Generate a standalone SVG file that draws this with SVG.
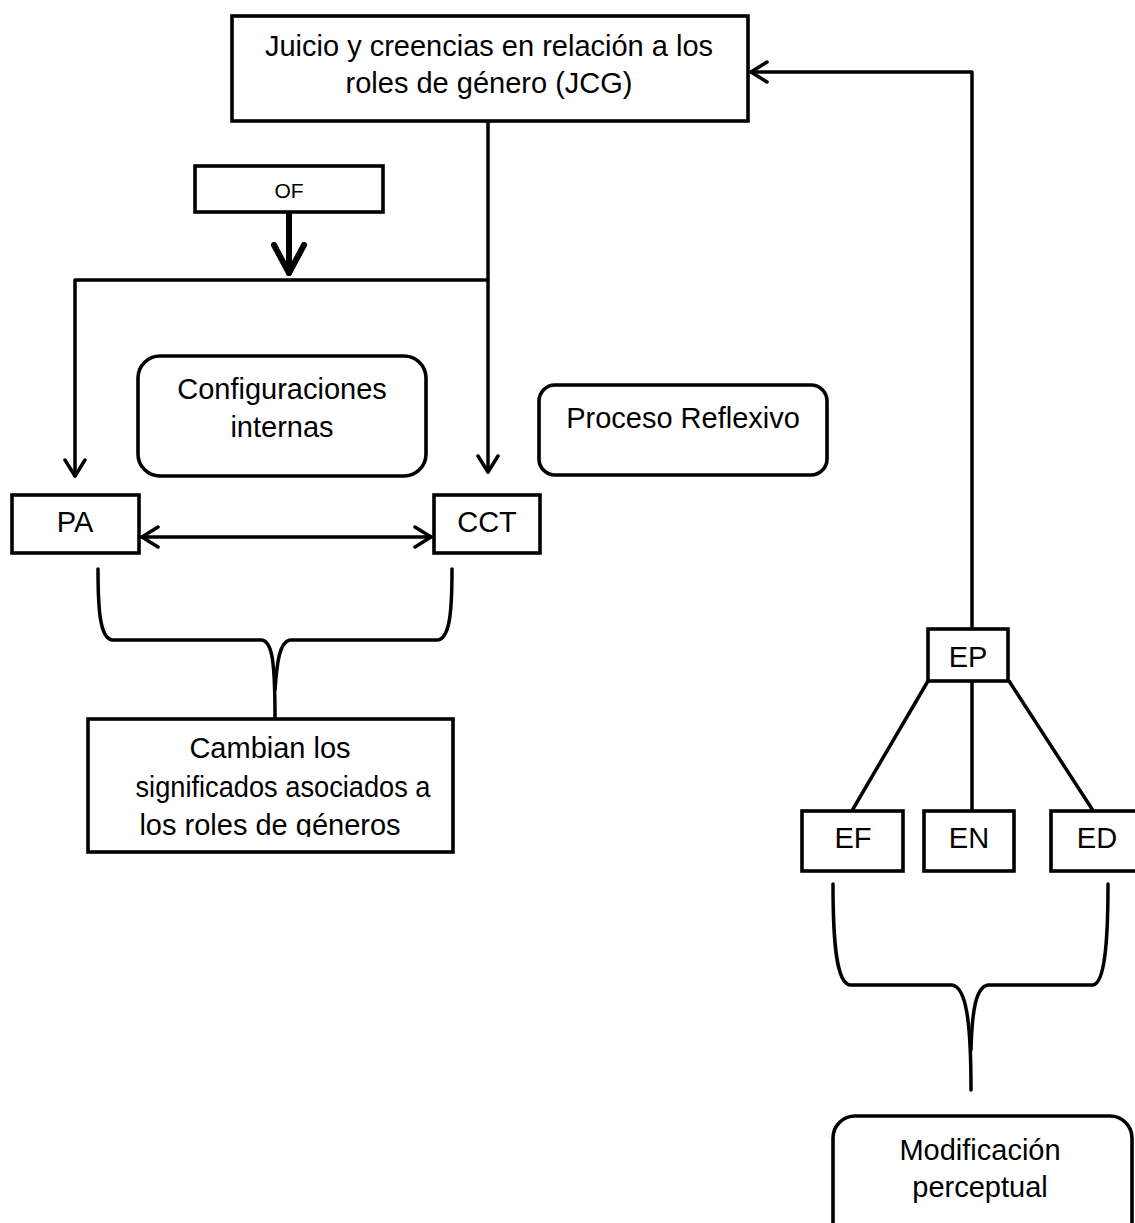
<svg xmlns="http://www.w3.org/2000/svg" width="1135" height="1223" viewBox="0 0 1135 1223">
<style>
.box{fill:#fff;stroke:#000;stroke-width:3.6}
.t{font-family:"Liberation Sans",Arial,sans-serif;font-size:29px;fill:#000;text-anchor:middle}
.ln{fill:none;stroke:#000;stroke-width:3.5;stroke-linecap:round;stroke-linejoin:round}
</style>
<defs>
<marker id="ah" viewBox="0 0 20 24" refX="18" refY="12" markerWidth="20" markerHeight="24" markerUnits="userSpaceOnUse" orient="auto-start-reverse">
<path d="M2,2 L18,12 L2,22" fill="none" stroke="#000" stroke-width="3.5" stroke-linecap="round" stroke-linejoin="round"/>
</marker>
<marker id="ahb" viewBox="0 0 34 36" refX="31" refY="18" markerWidth="34" markerHeight="36" markerUnits="userSpaceOnUse" orient="auto">
<path d="M3,3 L31,18 L3,33" fill="none" stroke="#000" stroke-width="6" stroke-linecap="round" stroke-linejoin="round"/>
</marker>
<clipPath id="cambClip"><rect x="80" y="700" width="380" height="137"/></clipPath>
</defs>

<g id="connectors">
<path class="ln" d="M488,121 V472" marker-end="url(#ah)"/>
<path class="ln" d="M488,280 H75 V476" marker-end="url(#ah)"/>
<path class="ln" d="M289,213 V273" style="stroke-width:6" marker-end="url(#ahb)"/>
<path class="ln" d="M142,537 H431" marker-start="url(#ah)" marker-end="url(#ah)"/>
<path class="ln" d="M972,628 V72 H751" marker-end="url(#ah)"/>
<path class="ln" d="M928,681 L853,809"/>
<path class="ln" d="M972,681 V809"/>
<path class="ln" d="M1009,681 L1092,809"/>
<path class="ln" d="M98,569 C98,610 100,638 112,640 H262 C272,642 275,660 275,718"/>
<path class="ln" d="M452,569 C452,610 450,638 438,640 H290 C280,642 277,660 275,690"/>
<path class="ln" d="M833,884 C833,940 836,983 850,985 H952 C966,987 971,1020 971,1090"/>
<path class="ln" d="M1108,884 C1108,940 1105,983 1093,985 H988 C976,987 972,1010 971,1050"/>
</g>

<g id="jcg">
<rect class="box" x="232" y="16" width="516" height="105"/>
<text class="t" x="489" y="56">Juicio y creencias en relación a los</text>
<text class="t" x="489" y="93">roles de género (JCG)</text>
</g>

<g id="of">
<rect class="box" x="195" y="166" width="188" height="46"/>
<text class="t" x="289" y="198" style="font-size:21px">OF</text>
</g>

<g id="config">
<rect class="box" x="138" y="356" width="288" height="120" rx="22"/>
<text class="t" x="282" y="399">Configuraciones</text>
<text class="t" x="282" y="437">internas</text>
</g>

<g id="proceso">
<rect class="box" x="539" y="385" width="288" height="90" rx="16"/>
<text class="t" x="683" y="428">Proceso Reflexivo</text>
</g>

<g id="pa">
<rect class="box" x="12" y="495" width="127" height="58"/>
<text class="t" x="75" y="532">PA</text>
</g>

<g id="cct">
<rect class="box" x="434" y="495" width="106" height="58"/>
<text class="t" x="487" y="532">CCT</text>
</g>

<g id="cambian">
<rect class="box" x="88" y="719" width="365" height="133"/>
<g clip-path="url(#cambClip)">
<text class="t" x="270" y="758">Cambian los</text>
<text class="t" x="283" y="797" textLength="295" lengthAdjust="spacingAndGlyphs">significados asociados a</text>
<text class="t" x="270" y="835">los roles de géneros</text>
</g>
</g>

<g id="ep">
<rect class="box" x="928" y="629" width="80" height="52"/>
<text class="t" x="968" y="667">EP</text>
</g>

<g id="ef">
<rect class="box" x="802" y="811" width="101" height="60"/>
<text class="t" x="853" y="848">EF</text>
</g>

<g id="en">
<rect class="box" x="924" y="811" width="90" height="60"/>
<text class="t" x="969" y="848">EN</text>
</g>

<g id="ed">
<rect class="box" x="1051" y="811" width="100" height="60"/>
<text class="t" x="1097" y="848">ED</text>
</g>

<g id="modificacion">
<rect class="box" x="833" y="1116" width="299" height="130" rx="22"/>
<text class="t" x="980" y="1160">Modificación</text>
<text class="t" x="980" y="1197">perceptual</text>
</g>
</svg>
